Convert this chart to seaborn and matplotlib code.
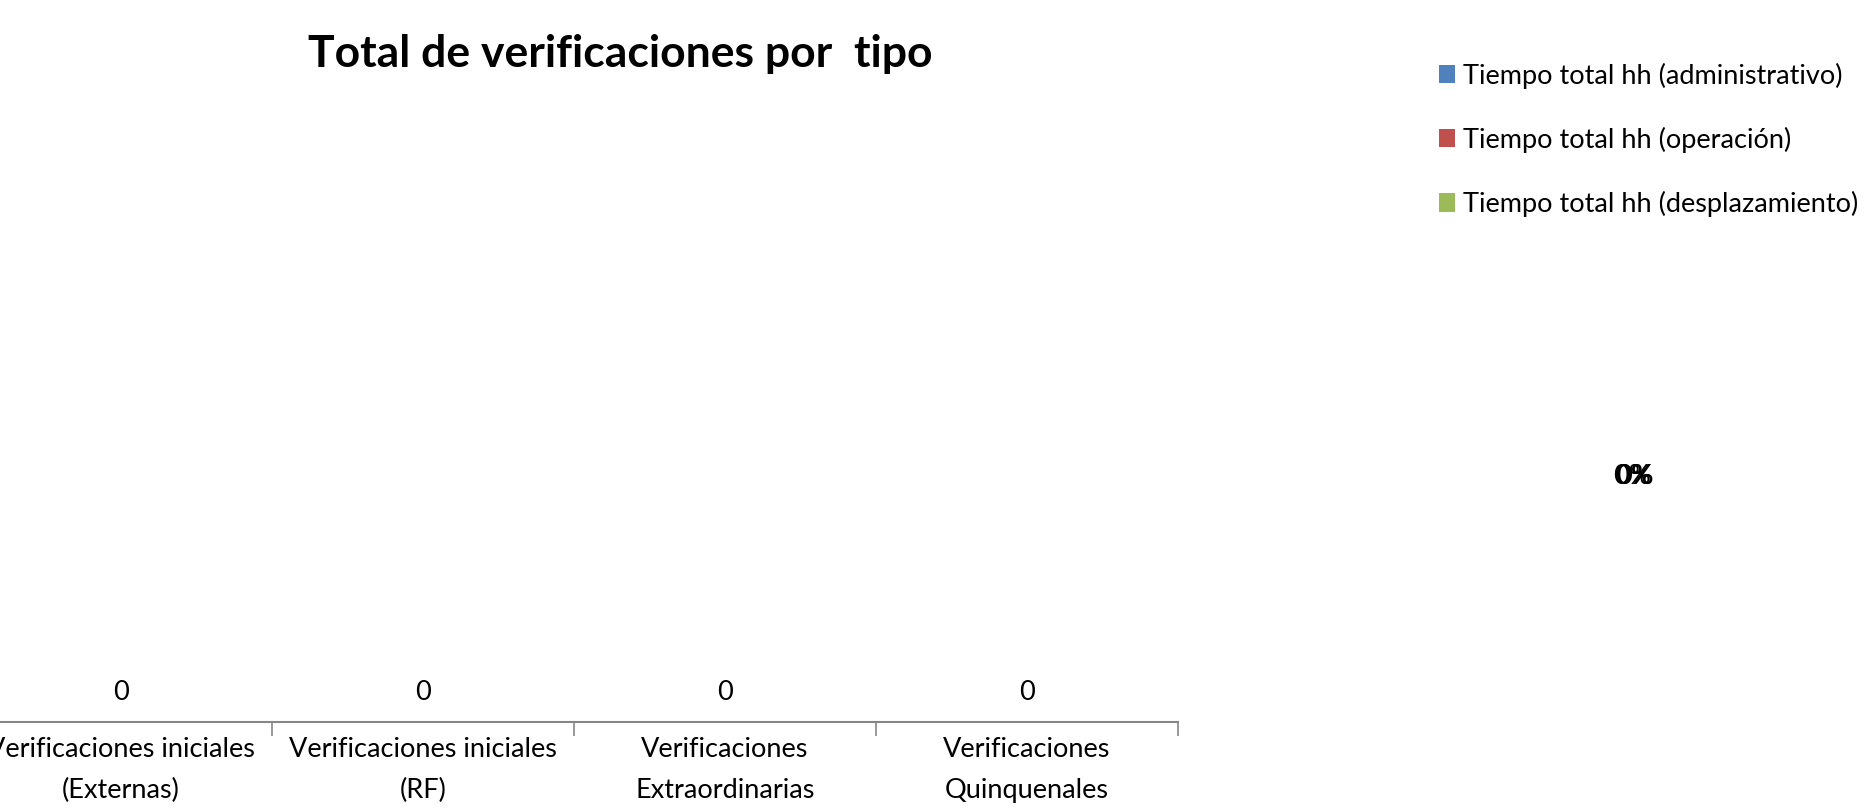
import numpy as np
import pandas as pd
import seaborn as sns
import matplotlib.pyplot as plt
from matplotlib.patches import Patch

# bar chart data (all zero in the source sheet)
categorias = ['Verificaciones iniciales\n(Externas)', 'Verificaciones iniciales\n(RF)',
              'Verificaciones\nExtraordinarias', 'Verificaciones\nQuinquenales']
totales = [0, 0, 0, 0]

# pie chart data (empty too)
tiempos = ['Tiempo total hh (administrativo)', 'Tiempo total hh (operación)',
           'Tiempo total hh (desplazamiento)']
horas = [0, 0, 0]
colores = ['#4F81BD', '#C0504D', '#9BBB59']

sns.set_style('white')
plt.rcParams['font.family'] = ['Lato', 'DejaVu Sans']
plt.rcParams['text.color'] = 'black'
plt.rcParams['xtick.color'] = 'black'

fig = plt.figure(figsize=(18.69, 8.08), dpi=100)

# bar chart, axis runs off the left edge like the original
ax = fig.add_axes([-30 / 1869, 86 / 808, 1208 / 1869, 600 / 808])
df = pd.DataFrame({'tipo': categorias, 'total': totales})
sns.barplot(data=df, x='tipo', y='total', ax=ax, color='#4F81BD', width=0.6)
ax.set_ylim(0, 1)
for c in ax.containers:
    ax.bar_label(c, labels=[str(v) for v in totales], padding=12, fontsize=19.5)
ax.set_xlabel('')
ax.set_ylabel('')
ax.set_yticks([])
for s in ['top', 'right', 'left']:
    ax.spines[s].set_visible(False)
ax.spines['bottom'].set_color('#868686')
ax.spines['bottom'].set_linewidth(1.5)
# tick marks between categories
ax.set_xticks(np.arange(len(categorias)), categorias, fontsize=19.5, linespacing=1.8)
ax.set_xlim(-0.5, len(categorias) - 0.5)
ax.xaxis.set_minor_locator(plt.FixedLocator(np.arange(len(categorias) + 1) - 0.5))
ax.tick_params(axis='x', which='major', length=0, pad=11)
ax.tick_params(axis='x', which='minor', bottom=True, length=10, color='#868686', width=1.2,
               direction='out')

fig.text(620 / 1869, 1 - 54 / 808, 'Total de verificaciones por  tipo', ha='center', va='center',
         fontsize=32, fontweight='bold')

# pie legend + percentage labels (all 0%)
handles = [Patch(facecolor=c, edgecolor='none') for c in colores]
fig.legend(handles, tiempos, loc='upper left', bbox_to_anchor=(1428 / 1869, 1 - 52 / 808),
           frameon=False, fontsize=19.5, handlelength=0.6, handleheight=0.65, handletextpad=0.3,
           labelspacing=1.4, borderaxespad=0)
total = sum(horas)
for i, h in enumerate(horas):
    pct = 0 if total == 0 else 100 * h / total
    fig.text(1632 / 1869 + i * 0.0008, 1 - 476 / 808, f'{pct:.0f}%', ha='center', va='center',
             fontsize=19.5)

fig.savefig('out.png', dpi=100)
